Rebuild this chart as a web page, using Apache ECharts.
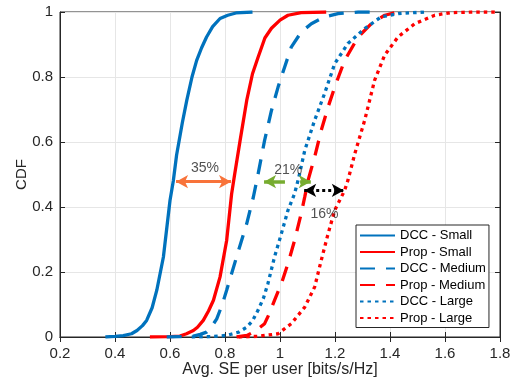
<!DOCTYPE html>
<html><head><meta charset="utf-8">
<script src="https://cdn.jsdelivr.net/npm/echarts@6/dist/echarts.min.js"></script>
<style>html,body{margin:0;padding:0;background:#fff}#c{width:518px;height:383px}</style>
</head><body><div id="c"></div>
<script>
const seriesNames = ['DCC - Small','Prop - Small','DCC - Medium','Prop - Medium','DCC - Large','Prop - Large'];

const dccSmallX = [0.365,0.40,0.43,0.46,0.48,0.50,0.515,0.535,0.552,0.576,0.60,0.612,0.624,0.645,0.661,0.68,0.697,0.715,0.733,0.755,0.782,0.81,0.84,0.90];
const dccSmallY = [0,0.002,0.004,0.01,0.02,0.035,0.051,0.09,0.144,0.246,0.42,0.48,0.56,0.66,0.728,0.80,0.851,0.89,0.923,0.955,0.98,0.99,0.997,1];

const propSmallX = [0.527,0.60,0.636,0.66,0.685,0.70,0.721,0.74,0.758,0.782,0.806,0.824,0.835,0.855,0.879,0.90,0.92,0.945,0.969,1.0,1.029,1.077,1.168];
const propSmallY = [0,0.001,0.003,0.01,0.02,0.03,0.051,0.08,0.113,0.185,0.297,0.44,0.50,0.605,0.728,0.81,0.86,0.92,0.95,0.975,0.99,0.998,1];

const dccMedX = [0.588,0.65,0.685,0.71,0.733,0.75,0.77,0.79,0.806,0.842,0.879,0.903,0.92,0.944,0.969,0.993,1.017,1.041,1.077,1.114,1.162,1.211,1.284,1.34];
const dccMedY = [0,0.001,0.003,0.008,0.015,0.03,0.056,0.10,0.144,0.246,0.349,0.43,0.50,0.605,0.697,0.769,0.831,0.892,0.938,0.964,0.985,0.995,1,1];

const propMedX = [0.842,0.88,0.903,0.92,0.944,0.96,0.98,1.005,1.029,1.053,1.077,1.09,1.102,1.126,1.150,1.175,1.199,1.235,1.284,1.332,1.381,1.43];
const propMedY = [0,0.005,0.015,0.025,0.041,0.07,0.113,0.164,0.226,0.297,0.38,0.431,0.482,0.554,0.636,0.708,0.769,0.851,0.923,0.964,0.99,1];

const dccLargeX = [0.679,0.75,0.806,0.85,0.879,0.90,0.92,0.94,0.956,0.98,1.005,1.029,1.053,1.068,1.09,1.126,1.162,1.199,1.247,1.308,1.368,1.43,1.526];
const dccLargeY = [0,0.001,0.005,0.015,0.03,0.05,0.082,0.12,0.164,0.246,0.318,0.39,0.441,0.49,0.574,0.667,0.749,0.841,0.903,0.949,0.985,0.995,1];

const propLargeX = [0.85,0.92,0.993,1.041,1.09,1.126,1.150,1.175,1.199,1.235,1.247,1.272,1.308,1.344,1.381,1.429,1.49,1.563,1.62,1.70,1.793];
const propLargeY = [0,0.002,0.01,0.041,0.092,0.154,0.236,0.318,0.39,0.451,0.482,0.564,0.667,0.79,0.868,0.923,0.964,0.99,0.998,1,1];

const xTicks = [0.2,0.4,0.6,0.8,1,1.2,1.4,1.6,1.8];
const yTicks = [0,0.2,0.4,0.6,0.8,1];

const annotArrows = [
  {from:[0.622,0.478], to:[0.822,0.478], kind:'orange', heads:['arrow','arrow']},
  {from:[1.018,0.478], to:[0.942,0.478], kind:'green', heads:['none','arrow']},
  {from:[1.073,0.478], to:[1.112,0.478], kind:'green', heads:['none','arrow']},
  {from:[1.088,0.451], to:[1.232,0.451], kind:'black', heads:['arrow','arrow']}
];
const annotTexts = [[0.727,0.519,'35%'],[1.03,0.513,'21%'],[1.162,0.378,'16%']];

const BLUE = '#0072BD', RED = '#FF0000';
const styles = [
  {color:BLUE, type:'solid'},
  {color:RED, type:'solid'},
  {color:BLUE, type:[15,11]},
  {color:RED, type:[15,11]},
  {color:BLUE, type:[3.5,4]},
  {color:RED, type:[3.5,4]}
];
const xs = [dccSmallX,propSmallX,dccMedX,propMedX,dccLargeX,propLargeX];
const ys = [dccSmallY,propSmallY,dccMedY,propMedY,dccLargeY,propLargeY];

const arrowColors = {orange:'#F8733A', green:'#77AC30', black:'#000000'};
const arrowStyle = {
  orange:{width:3, type:'solid'},
  green:{width:3.5, type:'solid'},
  black:{width:3, type:[3,3]}
};

const FONT = 'Liberation Sans, Arial, Helvetica, sans-serif';
const AX = '#262626';
const fmt = v => String(+(+v).toFixed(1));

const series = seriesNames.map((n,i)=>({
  name:n, type:'line', symbol:'none', showSymbol:false, animation:false,
  data: xs[i].map((x,j)=>[x, ys[i][j]]),
  lineStyle:{color:styles[i].color, width:3.3, type:styles[i].type, cap:'butt'},
  itemStyle:{color:styles[i].color},
  z: 3
}));

annotArrows.forEach((a,k)=>{
  series.push({
    type:'line', data:[], animation:false, silent:true, z:5,
    markLine:{
      silent:true, animation:false,
      symbol:a.heads, symbolSize:[10,12],
      label:{show:false},
      lineStyle:{color:arrowColors[a.kind], width:arrowStyle[a.kind].width, type:arrowStyle[a.kind].type},
      emphasis:{disabled:true},
      data:[[{coord:a.from},{coord:a.to}]]
    }
  });
});

series.push({
  type:'scatter', data:annotTexts, symbolSize:0, silent:true, animation:false, z:6,
  label:{show:true, position:'inside', formatter:p=>p.value[2], color:'#262626', fontSize:14, fontFamily:FONT}
});

const chart = echarts.init(document.getElementById('c'), null, {renderer:'canvas'});
chart.setOption({
  backgroundColor:'#fff',
  animation:false,
  grid:{left:60, right:18, top:12, bottom:46, show:true, borderColor:AX, borderWidth:1, backgroundColor:'transparent', containLabel:false, outerBoundsMode:'none'},
  legend:{
    data:seriesNames, orient:'vertical', left:356, top:225,
    itemWidth:35, itemHeight:13, itemGap:3.5, padding:[4,3,3,3],
    itemStyle:{opacity:0},
    backgroundColor:'#fff', borderColor:AX, borderWidth:1, borderRadius:0,
    textStyle:{fontSize:13, color:'#000', fontFamily:FONT},
    selectedMode:false
  },
  xAxis:[{
    type:'value', min:0.2, max:1.8, interval:0.2,
    name:'Avg. SE per user [bits/s/Hz]', nameLocation:'middle', nameGap:25, nameMoveOverlap:false,
    nameTextStyle:{fontSize:16, color:AX, fontFamily:FONT},
    axisLine:{show:true, lineStyle:{color:AX}},
    axisTick:{show:true, inside:true, length:5, lineStyle:{color:AX}},
    axisLabel:{fontSize:15, color:AX, fontFamily:FONT, margin:9, formatter:fmt},
    splitLine:{show:true, lineStyle:{color:'#E6E6E6', width:1}}
  },{
    type:'value', position:'top', min:0.2, max:1.8, interval:0.2,
    axisLine:{show:true, lineStyle:{color:AX}},
    axisTick:{show:true, inside:true, length:5, lineStyle:{color:AX}},
    axisLabel:{show:false}, splitLine:{show:false}
  }],
  yAxis:[{
    type:'value', min:0, max:1, interval:0.2,
    name:'CDF', nameLocation:'middle', nameGap:31, nameMoveOverlap:false,
    nameTextStyle:{fontSize:15, color:AX, fontFamily:FONT},
    axisLine:{show:true, lineStyle:{color:AX}},
    axisTick:{show:true, inside:true, length:5, lineStyle:{color:AX}},
    axisLabel:{fontSize:15, color:AX, fontFamily:FONT, margin:7, formatter:fmt},
    splitLine:{show:true, lineStyle:{color:'#E6E6E6', width:1}}
  },{
    type:'value', position:'right', min:0, max:1, interval:0.2,
    axisLine:{show:true, lineStyle:{color:AX}},
    axisTick:{show:true, inside:true, length:5, lineStyle:{color:AX}},
    axisLabel:{show:false}, splitLine:{show:false}
  }],
  series:series
});
</script></body></html>
